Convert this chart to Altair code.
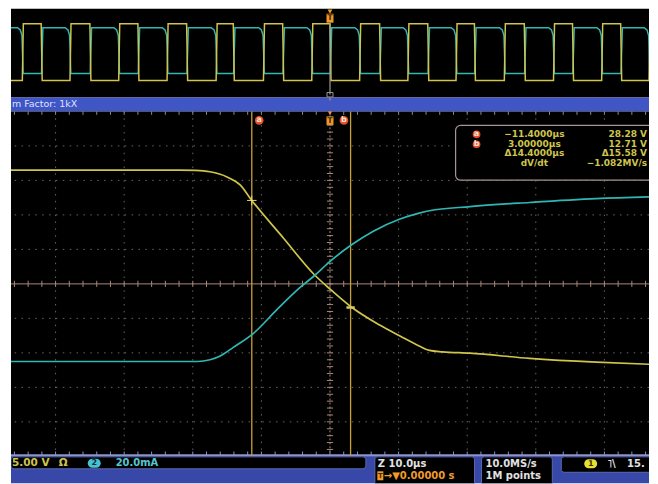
import altair as alt
import pandas as pd
import numpy as np

# Overview record (compressed 1kX): time in ms, amplitude in divisions
ov_rise = [-44.85, -37.9, -30.8, -23.75, -16.6, -9.7, -2.66, 4.32, 11.35, 18.37, 25.41, 32.58, 39.6, 46.5]
ov_fall = [-42.1, -35.0, -28.0, -20.9, -14.1, -6.9, 0.0, 7.23, 14.25, 21.05, 28.32, 35.35, 42.37]
ov_ch1_lo, ov_ch1_hi = -3.09, 3.31
ov_ch2_lo, ov_ch2_hi = -2.30, 2.87

# Zoomed window: time in µs, amplitude in divisions from centre
ch1_t = [-46.5, -22.0, -19.6, -17.5, -15.0, -13.1, -11.4, -6.8, -2.2, 0.0, 3.2, 7.3, 10.2, 13.0, 14.5, 16.4, 20.4, 29.1, 38.8, 46.5]
ch1_v = [3.30, 3.30, 3.29, 3.25, 3.10, 2.87, 2.42, 1.33, 0.25, -0.15, -0.685, -1.20, -1.51, -1.80, -1.93, -1.97, -2.01, -2.16, -2.27, -2.33]
ch2_t = [-46.5, -22.0, -19.3, -17.5, -16.0, -14.1, -11.2, -7.7, -4.4, -2.2, 0.0, 3.2, 6.25, 10.2, 13.0, 14.5, 20.4, 29.1, 38.8, 46.5]
ch2_v = [-2.25, -2.25, -2.25, -2.20, -2.09, -1.84, -1.44, -0.74, -0.11, 0.25, 0.65, 1.14, 1.52, 1.88, 2.05, 2.12, 2.24, 2.36, 2.47, 2.52]

cursor_t = [-11.4, 3.0]
cursor_v = [2.42, -0.685]

readout_left = ["\u221211.4000\u00b5s", "3.00000\u00b5s", "\u039414.4000\u00b5s", "dV/dt"]
readout_right = ["28.28 V", "12.71 V", "\u039415.58 V", "\u22121.082MV/s"]

zoom_text = "m Factor: 1kX"
ch1_scale = "5.00 V"
ch2_scale = "20.0mA"
horiz_text = ["Z 10.0\u00b5s", "\u2192\u25bc0.00000 s"]
acq_text = ["10.0MS/s", "1M points"]
trig_text = "15."

# ---------------- styling ----------------
W = 640
YEL = "#cfc44c"
CYN = "#2fb7b3"
CUR = "#c9a038"
ORG = "#f09a2a"
RED = "#e4502a"
GRID = "#666666"
PEACH = "#a8887a"
LAV = "#8c94c8"
BLUE1 = "#3f56c4"
BLUE2 = "#3848a8"
FONT = "DejaVu Sans"


def one():
    return pd.DataFrame({"k": [0]})


def label(text, x, y, color, size=10, align="left", weight="bold", clip=False):
    return alt.Chart(one()).mark_text(
        text=text, align=align, baseline="middle", color=color, fontSize=size,
        fontWeight=weight, font=FONT, clip=clip
    ).encode(x=alt.value(x), y=alt.value(y))


def box(x, x2, y, y2, fill, stroke="transparent", radius=0, sw=1, clip=False):
    return alt.Chart(one()).mark_rect(
        fill=fill, stroke=stroke, strokeWidth=sw, cornerRadius=radius, clip=clip
    ).encode(x=alt.value(x), x2=alt.value(x2), y=alt.value(y), y2=alt.value(y2))


def dot(x, y, color, size, shape="circle", clip=False):
    return alt.Chart(one()).mark_point(
        filled=True, color=color, size=size, shape=shape, opacity=1, clip=clip
    ).encode(x=alt.value(x), y=alt.value(y))


XS = alt.Scale(domain=[-46.5, 46.5], nice=False, zero=False)
YS = alt.Scale(domain=[-5, 5], nice=False, zero=False)


def X(f):
    return alt.X(f, type="quantitative", scale=XS, axis=None)


def Y(f):
    return alt.Y(f, type="quantitative", scale=YS, axis=None)


# ---------------- overview panel ----------------
events = sorted([(t, 1) for t in ov_rise] + [(t, 0) for t in ov_fall])
p1 = [(-47.0, ov_ch1_lo)]
p2 = [(-47.0, ov_ch2_hi)]
lvl1 = ov_ch1_lo
for t, k in events:
    if k == 1:
        p1 += [(t, ov_ch1_lo), (t + 0.15, ov_ch1_hi)]
        p2 += [(t - 0.7, ov_ch2_hi), (t - 0.3, ov_ch2_hi - 0.25), (t - 0.05, ov_ch2_hi - 0.9), (t + 0.12, ov_ch2_lo)]
        lvl1 = ov_ch1_hi
    else:
        p1 += [(t, ov_ch1_hi), (t + 0.15, ov_ch1_lo)]
        p2 += [(t + 0.05, ov_ch2_lo), (t + 0.25, ov_ch2_hi)]
        lvl1 = ov_ch1_lo
p1.append((47.0, lvl1))
p2.append((47.0, ov_ch2_lo if lvl1 == ov_ch1_hi else ov_ch2_hi))
ov1 = pd.DataFrame(p1, columns=["t", "v"]).reset_index().rename(columns={"index": "i"})
ov2 = pd.DataFrame(p2, columns=["t", "v"]).reset_index().rename(columns={"index": "i"})

ov_line1 = alt.Chart(ov1).mark_line(color=YEL, strokeWidth=1.5, clip=True).encode(
    x=X("t"), y=Y("v"), order=alt.Order("i:Q"))
ov_line2 = alt.Chart(ov2).mark_line(color=CYN, strokeWidth=1.5, clip=True).encode(
    x=X("t"), y=Y("v"), order=alt.Order("i:Q"))
ov_trig = alt.Chart(pd.DataFrame({"t": [0.0]})).mark_rule(color="#9a9a9a", strokeWidth=1.2).encode(
    x=X("t"), y=alt.value(14), y2=alt.value(86))

overview = alt.layer(
    ov_line2, ov_line1, ov_trig,
    dot(320, 3, ORG, 24, "triangle-down", clip=True),
    box(316.5, 323.5, 5, 14, ORG),
    label("T", 320, 9.5, "#4a2800", size=8, align="center"),
    box(317, 323, 84, 88.5, "transparent", stroke="#9a9a9a"),
).properties(width=W, height=89, view=alt.ViewBackground(fill="#000000", stroke="transparent"))

# ---------------- zoom-factor bar ----------------
bar = alt.layer(
    label(zoom_text, 1, 7, "#dfe2ff", size=9.5, weight="normal"),
    box(319.5, 320.5, 0, 3, ORG),
).properties(width=W, height=14, view=alt.ViewBackground(fill=BLUE1, stroke="transparent"))

# ---------------- main zoomed panel ----------------
grid_t = [-40, -30, -20, -10, 10, 20, 30, 40]
grid_v = [-4, -3, -2, -1, 1, 2, 3, 4]
minor_t = np.round(np.arange(-46, 46.1, 2), 3)
minor_v = np.round(np.arange(-4.8, 4.81, 0.2), 3)

vgrid = alt.Chart(pd.DataFrame({"t": grid_t})).mark_rule(
    color=GRID, strokeDash=[1.5, 5.4], strokeWidth=1).encode(x=X("t"))
hgrid = alt.Chart(pd.DataFrame({"v": grid_v})).mark_rule(
    color=GRID, strokeDash=[1.5, 5.4], strokeWidth=1).encode(y=Y("v"))
cx = alt.Chart(pd.DataFrame({"t": [0.0]})).mark_rule(color=PEACH, strokeWidth=1, strokeDash=[2, 2]).encode(x=X("t"))
cy = alt.Chart(pd.DataFrame({"v": [0.0]})).mark_rule(color=PEACH, strokeWidth=1).encode(y=Y("v"))
ht = alt.Chart(pd.DataFrame({"t": minor_t, "a": -0.09, "b": 0.09})).mark_rule(
    color=PEACH, strokeWidth=1).encode(x=X("t"), y=Y("a"), y2="b")
vt = alt.Chart(pd.DataFrame({"v": minor_v, "a": -0.45, "b": 0.45})).mark_rule(
    color=PEACH, strokeWidth=1).encode(y=Y("v"), x=X("a"), x2="b")
topt = alt.Chart(pd.DataFrame({"t": minor_t, "a": 4.9, "b": 5.0})).mark_rule(
    color="#8a8a8a", strokeWidth=1).encode(x=X("t"), y=Y("a"), y2="b")
bott = alt.Chart(pd.DataFrame({"t": minor_t, "a": -5.0, "b": -4.86})).mark_rule(
    color=LAV, strokeWidth=1).encode(x=X("t"), y=Y("a"), y2="b")
botline = alt.Chart(one()).mark_rule(color=LAV, strokeWidth=2).encode(
    x=alt.value(0), x2=alt.value(W), y=alt.value(345))

cursors = alt.Chart(pd.DataFrame({"t": cursor_t})).mark_rule(color=CUR, strokeWidth=1.3).encode(x=X("t"))

tr1 = alt.Chart(pd.DataFrame({"t": ch1_t, "v": ch1_v})).mark_line(
    color=YEL, strokeWidth=1.7, interpolate="monotone", clip=True).encode(x=X("t"), y=Y("v"))
tr2 = alt.Chart(pd.DataFrame({"t": ch2_t, "v": ch2_v})).mark_line(
    color=CYN, strokeWidth=1.7, interpolate="monotone", clip=True).encode(x=X("t"), y=Y("v"))

cm_a = alt.Chart(pd.DataFrame({"t": cursor_t[:1], "v": cursor_v[:1]})).mark_point(
    shape="M-1,0L1,0M0,-1L0,1", filled=False, color="#e8e070", size=90, strokeWidth=1, opacity=1
).encode(x=X("t"), y=Y("v"))
cm_b = alt.Chart(pd.DataFrame({"t": cursor_t[1:], "v": cursor_v[1:]})).mark_point(
    shape="M-1,0L1,0", filled=False, color="#d8c860", size=70, strokeWidth=2.5, opacity=1
).encode(x=X("t"), y=Y("v"))

main_layers = [
    vgrid, hgrid, cx, cy, ht, vt, topt, bott, botline, cursors, tr1, tr2, cm_a, cm_b,
    # cursor / trigger flags at top
    dot(320, 1.5, ORG, 24, "triangle-down", clip=True),
    box(316.5, 323.5, 5, 13.5, ORG),
    label("T", 320, 9.5, "#4a2800", size=8, align="center"),
    dot(249, 9, RED, 75),
    label("a", 249, 8.5, "#ffe2d4", size=8, align="center"),
    dot(334, 9, RED, 75),
    label("b", 334, 8.5, "#ffe2d4", size=8, align="center"),
    # readout box
    box(446, 662, 14, 69, "#000000", stroke="#a89494", radius=5, sw=1.2, clip=True),
    dot(467, 23, RED, 60),
    label("a", 467, 22.5, "#ffe2d4", size=8, align="center"),
    dot(467, 33, RED, 60),
    label("b", 467, 32.5, "#ffe2d4", size=8, align="center"),
]
row_y = [23, 33, 42, 52]
for s, yy in zip(readout_left, row_y):
    main_layers.append(label(s, 525, yy, YEL, size=9, align="center"))
for s, yy in zip(readout_right, row_y):
    main_layers.append(label(s, 638, yy, YEL, size=9, align="right"))

main = alt.layer(*main_layers).properties(
    width=W, height=346, view=alt.ViewBackground(fill="#000000", stroke="transparent"))

# ---------------- status bar ----------------
stat = alt.layer(
    box(0, 356, 0.5, 12.5, "#000000", stroke="#5a68b0", radius=3, clip=True),
    label(ch1_scale, 1, 7, YEL, size=10.5),
    label("\u03a9", 48, 7, YEL, size=10.5),
    box(77, 90, 2.5, 11.5, "#45c3d2", radius=4.5),
    label("2", 83.5, 7, "#0a2a40", size=8, align="center"),
    label(ch2_scale, 105, 7, "#55c8d0", size=10),
    box(365, 465, 0.5, 30, "#000000", stroke="#5a68b0", radius=3, clip=True),
    label(horiz_text[0], 368, 7.5, "#e2e2e2", size=10),
    box(367.5, 373.5, 15, 24, ORG),
    label("T", 370.5, 19.5, "#4a2800", size=7, align="center"),
    label(horiz_text[1], 374, 19.5, ORG, size=10),
    box(472, 543, 0.5, 30, "#000000", stroke="#5a68b0", radius=3, clip=True),
    label(acq_text[0], 476, 7.5, "#e2e2e2", size=10),
    label(acq_text[1], 476, 19.5, "#e2e2e2", size=10),
    box(552, 660, 0.5, 16, "#000000", stroke="#5a68b0", radius=3, clip=True),
    box(575, 588, 3, 12, "#e8e030", radius=4.5),
    label("1", 581.5, 7.5, "#3a3000", size=8, align="center"),
    label("\u02e5\\", 598, 8, "#e2e2e2", size=10),
    label(trig_text, 618, 8, "#e2e2e2", size=10),
).properties(width=W, height=27, view=alt.ViewBackground(fill=BLUE2, stroke="transparent"))

chart = alt.vconcat(overview, bar, main, stat, spacing=0, bounds="flush").properties(
    padding={"left": 2, "top": 0, "right": 0, "bottom": 0}, background="#ffffff"
).configure_view(strokeWidth=0)

chart.save("out.html", embed_options={"renderer": "svg", "actions": False})
